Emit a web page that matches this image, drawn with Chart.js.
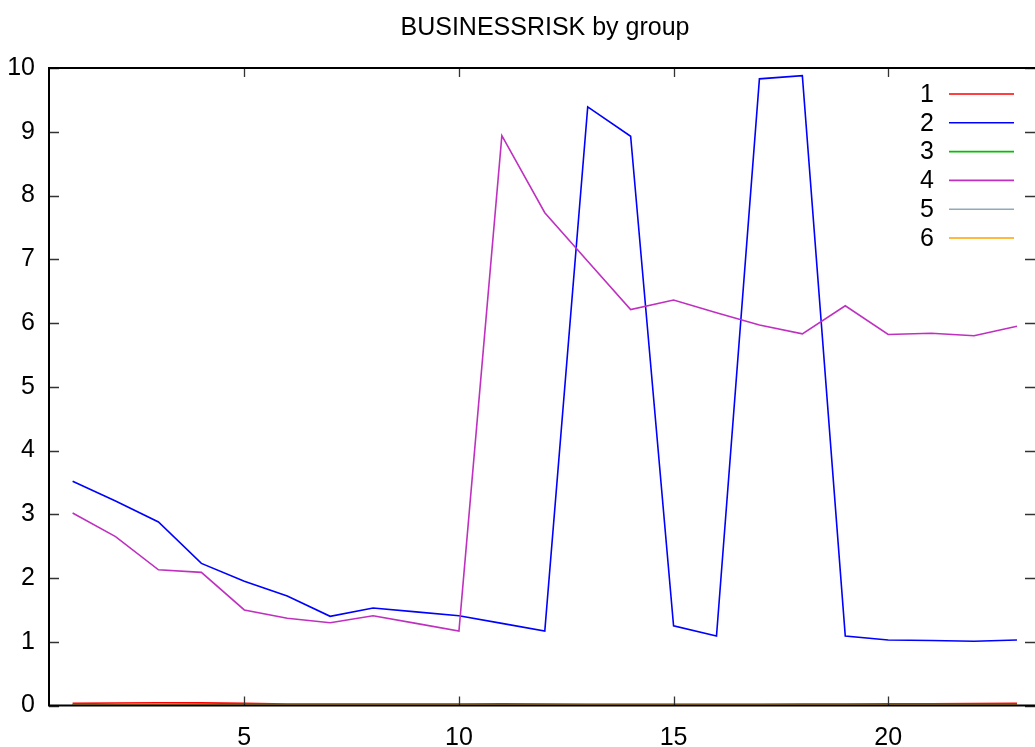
<!DOCTYPE html>
<html>
<head>
<meta charset="utf-8">
<title>BUSINESSRISK by group</title>
<script src="https://cdn.jsdelivr.net/npm/chart.js@4.4.1/dist/chart.umd.min.js"></script>
<style>
  html, body { margin: 0; padding: 0; background: #ffffff; }
  #wrap { width: 1035px; height: 747px; position: relative; }
</style>
</head>
<body>
<div id="wrap"><canvas id="chart" width="1035" height="747"></canvas></div>
<script>
// Observation index along the x axis
const periods = [1, 2, 3, 4, 5, 6, 7, 8, 9, 10, 11, 12, 13, 14, 15, 16, 17, 18, 19, 20, 21, 22, 23];

// Group names shown in the key
const groupNames = ['1', '2', '3', '4', '5', '6'];

// BUSINESSRISK per group
const group1 = [0.035, 0.040, 0.045, 0.042, 0.035, 0.025, 0.025, 0.025, 0.025, 0.025, 0.028, 0.025, 0.022, 0.022, 0.022, 0.022, 0.022, 0.025, 0.025, 0.028, 0.030, 0.033, 0.035];
const group2 = [3.52, 3.21, 2.88, 2.23, 1.95, 1.72, 1.40, 1.53, 1.47, 1.41, 1.29, 1.17, 9.39, 8.93, 1.25, 1.09, 9.83, 9.88, 1.09, 1.03, 1.02, 1.01, 1.03];
const group3 = [0.015, 0.015, 0.015, 0.015, 0.015, 0.015, 0.015, 0.015, 0.015, 0.015, 0.015, 0.015, 0.015, 0.015, 0.015, 0.015, 0.015, 0.015, 0.015, 0.015, 0.015, 0.015, 0.015];
const group4 = [3.02, 2.65, 2.13, 2.09, 1.50, 1.37, 1.30, 1.41, 1.29, 1.17, 8.94, 7.73, 6.97, 6.21, 6.36, 6.16, 5.97, 5.83, 6.27, 5.82, 5.84, 5.80, 5.95];
const group5 = [0.012, 0.012, 0.012, 0.012, 0.012, 0.012, 0.012, 0.012, 0.012, 0.012, 0.012, 0.012, 0.012, 0.012, 0.012, 0.012, 0.012, 0.012, 0.012, 0.012, 0.012, 0.012, 0.012];
const group6 = [0.010, 0.010, 0.010, 0.010, 0.010, 0.010, 0.010, 0.010, 0.010, 0.010, 0.010, 0.010, 0.010, 0.010, 0.010, 0.010, 0.010, 0.010, 0.010, 0.010, 0.010, 0.010, 0.010];

// Axis ticks
const xTickValues = [5, 10, 15, 20];
const yTickValues = [0, 1, 2, 3, 4, 5, 6, 7, 8, 9, 10];

const groupValues = [group1, group2, group3, group4, group5, group6];
const groupColors = ['#ff0000', '#0000ff', '#00c000', '#c030c0', '#90aab8', '#ffa000'];

const FONT = '"Liberation Sans", Arial, sans-serif';
const FONT_SIZE = 25;

const datasets = groupValues.map((vals, i) => ({
  label: groupNames[i],
  data: periods.map((p, k) => ({ x: p, y: vals[k] })),
  borderColor: groupColors[i],
  backgroundColor: groupColors[i],
  borderWidth: 1.6,
  pointRadius: 0,
  tension: 0,
  fill: false,
  // later groups are painted over earlier ones
  order: groupValues.length - i
}));

// Frame with inward tick marks, title and key
const framePlugin = {
  id: 'frame',
  afterDatasetsDraw(chart) {
    const ctx = chart.ctx;
    const { left, right, top, bottom } = chart.chartArea;
    const xs = chart.scales.x, ys = chart.scales.y;
    ctx.save();

    // tick marks
    ctx.strokeStyle = '#333333';
    ctx.lineWidth = 1.3;
    ctx.beginPath();
    xTickValues.forEach(v => {
      const px = Math.round(xs.getPixelForValue(v)) + 0.5;
      ctx.moveTo(px, bottom); ctx.lineTo(px, bottom - 9);
      ctx.moveTo(px, top); ctx.lineTo(px, top + 9);
    });
    yTickValues.forEach(v => {
      const py = Math.round(ys.getPixelForValue(v)) + 0.5;
      ctx.moveTo(left, py); ctx.lineTo(left + 10, py);
      ctx.moveTo(right, py); ctx.lineTo(right - 10, py);
    });
    ctx.stroke();

    // border (left, bottom, top)
    ctx.strokeStyle = '#000000';
    ctx.lineWidth = 2;
    ctx.beginPath();
    ctx.moveTo(right, top); ctx.lineTo(left, top); ctx.lineTo(left, bottom); ctx.lineTo(right, bottom);
    ctx.stroke();

    // title
    ctx.fillStyle = '#000000';
    ctx.font = '25px ' + FONT;
    ctx.textAlign = 'center';
    ctx.textBaseline = 'middle';
    ctx.fillText('BUSINESSRISK by group', (left + right) / 2 + 3, 28);

    // key
    ctx.font = FONT_SIZE + 'px ' + FONT;
    ctx.textAlign = 'right';
    chart.data.datasets.forEach((ds, i) => {
      const y = 94 + i * 28.8;
      ctx.fillStyle = '#000000';
      ctx.fillText(ds.label, 934, y + 1);
      ctx.strokeStyle = ds.borderColor;
      ctx.lineWidth = 1.6;
      ctx.beginPath();
      ctx.moveTo(949, y); ctx.lineTo(1014, y);
      ctx.stroke();
    });
    ctx.restore();
  }
};

new Chart(document.getElementById('chart'), {
  type: 'line',
  data: { datasets },
  options: {
    responsive: false,
    animation: false,
    events: [],
    layout: { padding: { top: 68, right: 0, left: 0, bottom: 0 } },
    plugins: {
      legend: { display: false },
      title: { display: false },
      tooltip: { enabled: false }
    },
    scales: {
      x: {
        type: 'linear',
        min: 0.45,
        max: 23.42,
        afterBuildTicks(scale) { scale.ticks = xTickValues.map(v => ({ value: v })); },
        afterFit(scale) { scale.height = 41.4; },
        grid: { display: false, drawTicks: false },
        border: { display: false },
        ticks: {
          color: '#000000',
          font: { family: FONT, size: FONT_SIZE },
          padding: 18,
          maxRotation: 0,
          autoSkip: false
        }
      },
      y: {
        type: 'linear',
        min: 0,
        max: 10,
        afterBuildTicks(scale) { scale.ticks = yTickValues.map(v => ({ value: v })); },
        afterFit(scale) { scale.width = 49; },
        grid: { display: false, drawTicks: false },
        border: { display: false },
        ticks: {
          color: '#000000',
          font: { family: FONT, size: FONT_SIZE },
          padding: 14,
          autoSkip: false
        }
      }
    }
  },
  plugins: [framePlugin]
});
</script>
</body>
</html>
